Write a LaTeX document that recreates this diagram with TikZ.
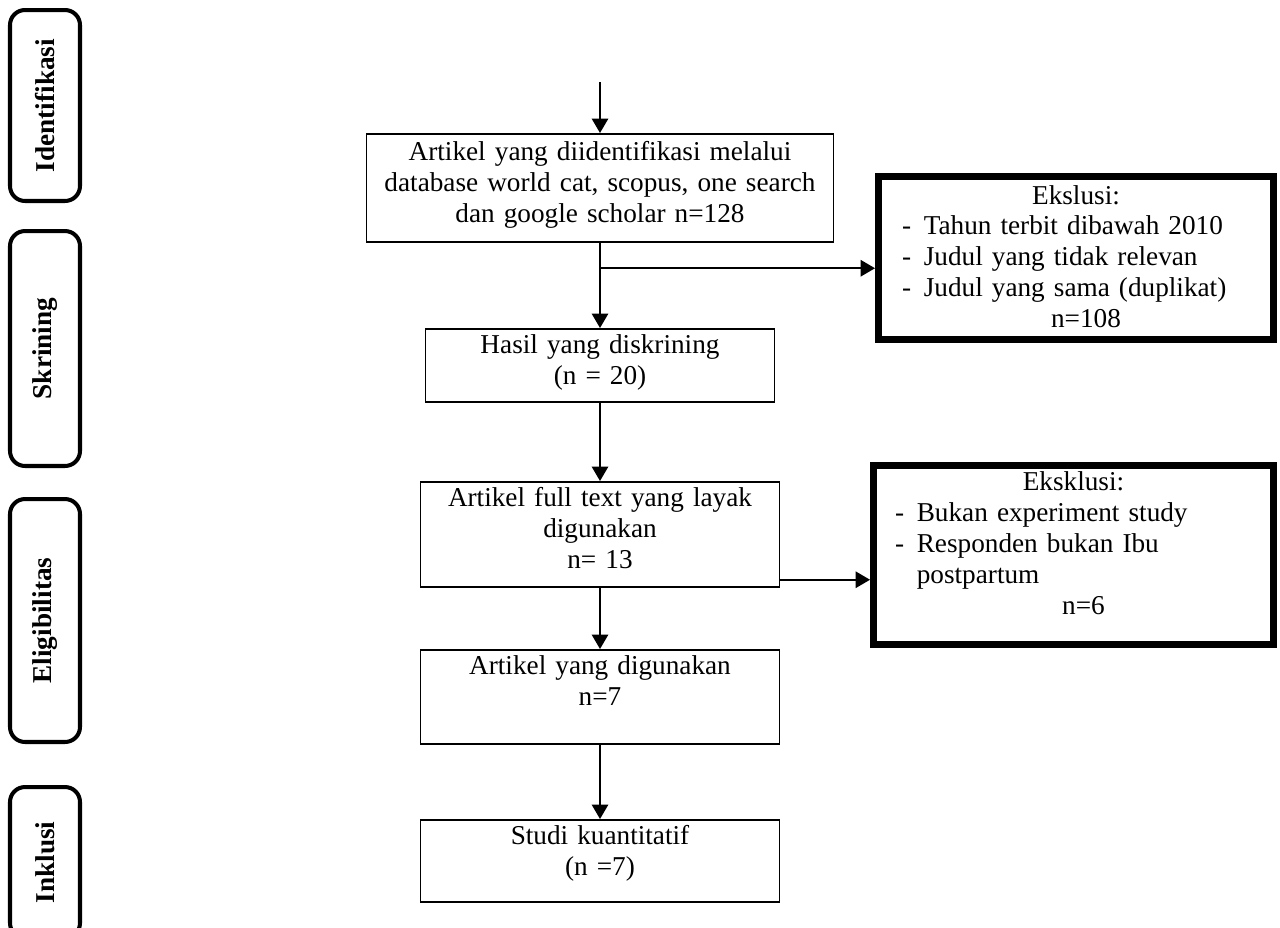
\documentclass[tikz,border=0pt]{standalone}
\usepackage{fontspec}
\setmainfont{Liberation Serif}
\usepackage{tikz}
\usetikzlibrary{arrows.meta,positioning}
\newcommand{\exitem}[2][6.96cm]{\makebox[#1][l]{\makebox[0.8em][l]{-}#2}}
\newcommand{\exline}[2][6.96cm]{\makebox[#1][l]{\hspace{0.8em}#2}}
\tikzset{
  flowbox/.style={
    draw,
    line width=1pt,
    anchor=north,
    align=center,
    inner sep=0pt,
    text height=0.5cm,
    font=\fontsize{15.5}{17.6}\selectfont
  },
  exclbox/.style={
    flowbox,
    line width=4pt
  },
  phase/.style={
    draw,
    line width=2.3pt,
    rounded corners=0.3cm,
    minimum width=1.4cm,
    inner sep=0pt,
    font=\bfseries\fontsize{15.5}{18}\selectfont
  },
  flowarrow/.style={
    -{Triangle[length=0.29cm,width=0.33cm]},
    line width=1pt
  }
}

\begin{document}
\begin{tikzpicture}[x=0.02cm,y=-0.02cm]
\useasboundingbox (0,0) rectangle (1280,927);

% phases
\node[phase,minimum height=3.82cm] (p1) at (45,105.5) {\rotatebox{90}{Identifikasi}};
\node[phase,minimum height=4.70cm] (p2) at (45,348.5) {\rotatebox{90}{Skrining}};
\node[phase,minimum height=4.86cm] (p3) at (45,620.5) {\rotatebox{90}{Eligibilitas}};
\node[phase,minimum height=3.02cm] (p4) at (45,862.5) {\rotatebox{90}{Inklusi}};

% main flow
\node[flowbox,text width=9.34cm,text height=0.54cm,text depth=1.63cm] (b1) at (600,133)
  {Artikel yang diidentifikasi melalui\\database world cat, scopus, one search\\dan google scholar n=128};
\node[flowbox,text width=6.98cm,text depth=0.96cm] (b2) at (600,328)
  {Hasil yang diskrining\\(n = 20)};
\node[flowbox,text width=7.18cm,text depth=1.60cm] (b3) at (600,481)
  {Artikel full text yang layak\\digunakan\\n= 13};
\node[flowbox,text width=7.18cm,text depth=1.38cm] (b4) at (600,649)
  {Artikel yang digunakan\\n=7};
\node[flowbox,text width=7.18cm,text depth=1.14cm] (b5) at (600,819)
  {Studi kuantitatif\\(n =7)};

% exclusions
\node[exclbox,text width=7.9cm,text height=0.55cm,text depth=2.71cm] (e1) at (1076,173)
  {Ekslusi:\\
   \exitem{Tahun terbit dibawah 2010}\\
   \exitem{Judul yang tidak relevan}\\
   \exitem{Judul yang sama (duplikat)}\\
   \hspace{0.4cm}n=108};
\node[exclbox,text width=8.0cm,text depth=3.08cm] (e2) at (1073.5,462)
  {Eksklusi:\\
   \exitem[7.14cm]{Bukan experiment study}\\
   \exitem[7.14cm]{Responden bukan Ibu}\\
   \exline[7.14cm]{postpartum}\\
   \hspace{0.4cm}n=6};

% connectors
\coordinate (start) at (600,82);
\draw[flowarrow] (start) -- (b1.north);
\draw[line width=1pt] (b1.south) -- ++(0,25) coordinate (split);
\draw[flowarrow] (split) -- (split -| e1.west);
\draw[flowarrow] (b1.south) -- (b2.north);
\draw[flowarrow] (b2.south) -- (b3.north);
\draw[flowarrow] ([yshift=0.16cm]b3.south east) coordinate (exit) -- (exit -| e2.west);
\draw[flowarrow] (b3.south) -- (b4.north);
\draw[flowarrow] (b4.south) -- (b5.north);
\end{tikzpicture}
\end{document}
